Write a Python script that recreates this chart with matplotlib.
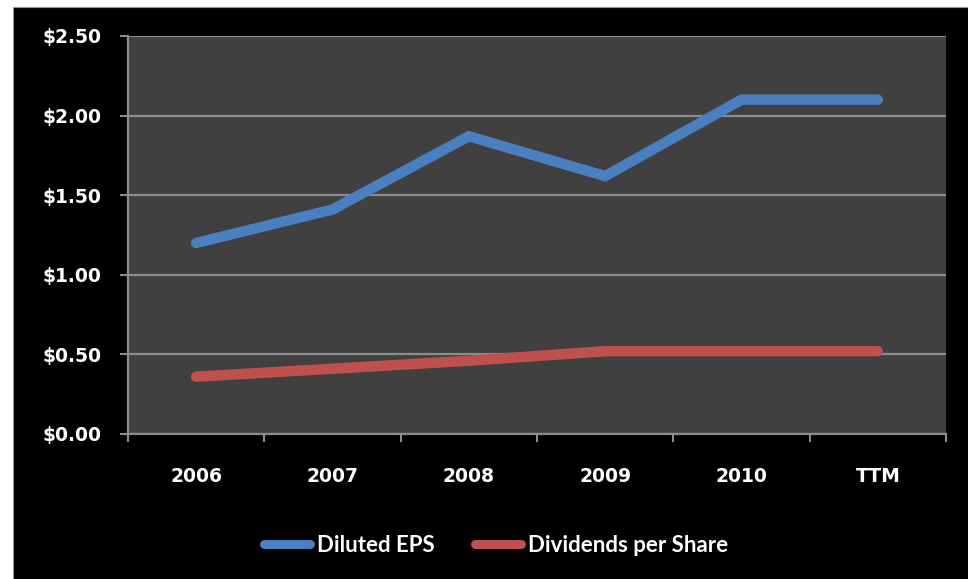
import matplotlib
matplotlib.use("Agg")
import matplotlib.pyplot as plt
from matplotlib.patches import Rectangle
from matplotlib.ticker import FixedLocator

# Data
categories = ["2006", "2007", "2008", "2009", "2010", "TTM"]
diluted_eps = [1.20, 1.41, 1.87, 1.62, 2.10, 2.10]
dividends_per_share = [0.36, 0.41, 0.46, 0.52, 0.52, 0.52]
y_ticks = [0.0, 0.5, 1.0, 1.5, 2.0, 2.5]
y_tick_labels = ["$0.00", "$0.50", "$1.00", "$1.50", "$2.00", "$2.50"]

plt.rcParams["font.family"] = ["Lato", "DejaVu Sans"]

W, H = 968, 579
fig = plt.figure(figsize=(W / 100, H / 100), dpi=100, facecolor="white")

# Black chart panel with a thin white margin on the top and left
fig.patches.append(Rectangle((13 / W, -0.05), 1.1, 1.05 - 7 / H,
                             transform=fig.transFigure, facecolor="black",
                             edgecolor="#9a9a9a", linewidth=0.8, zorder=-5))

ax = fig.add_axes([128 / W, 1 - 434 / H, (946 - 128) / W, (434 - 36) / H])
ax.set_facecolor("#404040")

x = list(range(len(categories)))
blue = "#4a7fc1"
red = "#c0504d"
ax.plot(x, diluted_eps, color=blue, linewidth=7.5, solid_capstyle="round",
        solid_joinstyle="miter", label="Diluted EPS", zorder=3)
ax.plot(x, dividends_per_share, color=red, linewidth=7.5, solid_capstyle="round",
        solid_joinstyle="miter", label="Dividends per Share", zorder=3)

ax.set_xlim(-0.5, len(categories) - 0.5)
ax.set_ylim(0, 2.5)

grid_color = "#8c8c8c"
ax.set_yticks(y_ticks)
ax.set_yticklabels(y_tick_labels)
ax.yaxis.grid(True, color=grid_color, linewidth=1.6, zorder=1)
ax.set_axisbelow(True)

ax.set_xticks(x)
ax.set_xticklabels(categories)
ax.xaxis.set_minor_locator(FixedLocator([i - 0.5 for i in range(len(categories) + 1)]))

ax.tick_params(axis="y", colors=grid_color, length=6, width=1.5, pad=13,
               labelcolor="white", labelsize=13.5)
ax.tick_params(axis="x", which="major", length=0, pad=24,
               labelcolor="white", labelsize=13.5)
ax.tick_params(axis="x", which="minor", colors=grid_color, length=6, width=1.5)
for lbl in ax.get_xticklabels() + ax.get_yticklabels():
    lbl.set_fontweight("bold")
    lbl.set_family(["DejaVu Sans"])

for side in ["top", "right"]:
    ax.spines[side].set_visible(False)
for side in ["left", "bottom"]:
    ax.spines[side].set_color(grid_color)
    ax.spines[side].set_linewidth(1.6)

leg = fig.legend(loc="center", bbox_to_anchor=(496 / W, 1 - 545 / H), ncol=2,
                 frameon=False, handlelength=2.1, handletextpad=0.3,
                 columnspacing=1.8, prop={"weight": "bold", "size": 16})
for t in leg.get_texts():
    t.set_color("white")
for h in leg.get_lines():
    h.set_solid_capstyle("round")
    h.set_linewidth(6.5)

fig.savefig("out.png", dpi=100, facecolor=fig.get_facecolor())
